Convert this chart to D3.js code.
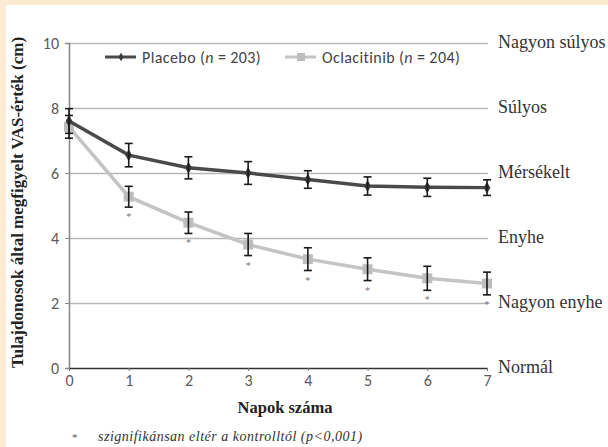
<!DOCTYPE html>
<html>
<head>
<meta charset="utf-8">
<script src="https://cdn.jsdelivr.net/npm/d3@7"></script>
<style>
  html, body { margin: 0; padding: 0; background: #fcead3; }
  svg { display: block; }
</style>
</head>
<body>
<svg id="chart" width="608" height="447"></svg>
<script>
// Owner-assessed pruritus VAS over the first week
const days = [0, 1, 2, 3, 4, 5, 6, 7];
const placeboMean = [7.6, 6.55, 6.16, 6.0, 5.8, 5.6, 5.56, 5.55];
const placeboErr = [0.38, 0.36, 0.34, 0.35, 0.27, 0.28, 0.28, 0.24];
const oclaMean = [7.42, 5.27, 4.47, 3.8, 3.35, 3.04, 2.76, 2.6];
const oclaErr = [0.35, 0.32, 0.33, 0.34, 0.35, 0.35, 0.37, 0.35];
const significantDays = [1, 2, 3, 4, 5, 6, 7];
const yTicks = [0, 2, 4, 6, 8, 10];
const severityLabels = ["Normál", "Nagyon enyhe", "Enyhe", "Mérsékelt", "Súlyos", "Nagyon súlyos"];
const legendLabels = [
  { name: "Placebo", n: 203 },
  { name: "Oclacitinib", n: 204 }
];

const svg = d3.select("#chart");
svg.append("rect").attr("x", 6).attr("y", 5).attr("width", 602).attr("height", 442).attr("fill", "#fff");

const x = d3.scaleLinear().domain([0, 7]).range([69, 487]);
const y = d3.scaleLinear().domain([0, 10]).range([368, 43]);

const sans = "Carlito, Calibri, 'Open Sans', 'Liberation Sans', sans-serif";
const serif = "'Liberation Serif', 'DejaVu Serif', serif";

// horizontal gridlines at each severity boundary
svg.append("g").selectAll("line").data(yTicks.filter(d => d > 0)).join("line")
  .attr("x1", x(0)).attr("x2", x(7) + 1)
  .attr("y1", d => y(d) + 0.5).attr("y2", d => y(d) + 0.5)
  .attr("stroke", "#b8b8b8").attr("stroke-width", 1.5);

// y axis
const yAxis = svg.append("g").attr("transform", `translate(${x(0)},0)`)
  .call(d3.axisLeft(y).tickValues(yTicks).tickSize(4).tickPadding(6).tickFormat(d3.format("d")));
yAxis.select(".domain").attr("stroke", "#8a8a8a").attr("stroke-width", 1.6);
yAxis.selectAll(".tick line").attr("stroke", "#8a8a8a");
yAxis.selectAll("text").attr("font-family", sans).attr("font-size", 16).attr("fill", "#5a5a5a");

// x axis
const xAxis = svg.append("g").attr("transform", `translate(0,${y(0)})`)
  .call(d3.axisBottom(x).tickValues(days).tickSize(3).tickPadding(4).tickSizeOuter(0).tickFormat(d3.format("d")));
xAxis.select(".domain").attr("stroke", "#333").attr("stroke-width", 1.6);
xAxis.selectAll(".tick line").attr("stroke", "#777");
xAxis.selectAll("text").attr("font-family", sans).attr("font-size", 16).attr("fill", "#5a5a5a");

// severity labels on the right
svg.append("g").selectAll("text").data(yTicks).join("text")
  .attr("x", 498).attr("y", d => y(d) + 5)
  .attr("font-family", serif).attr("font-size", 18).attr("fill", "#333")
  .text((d, i) => severityLabels[i]);

// axis titles
svg.append("text").attr("x", x(3.5) + 7).attr("y", 413).attr("text-anchor", "middle")
  .attr("font-family", serif).attr("font-size", 16.5).attr("font-weight", "bold").attr("fill", "#222")
  .text("Napok száma");
svg.append("text")
  .attr("transform", `translate(23,${y(5) - 3}) rotate(-90)`)
  .attr("text-anchor", "middle")
  .attr("font-family", serif).attr("font-size", 17).attr("font-weight", "bold").attr("fill", "#222")
  .text("Tulajdonosok által megfigyelt VAS-érték (cm)");

const line = d3.line().x((d, i) => x(days[i])).y(d => y(d));

function drawErrors(means, errs) {
  const g = svg.append("g").attr("stroke", "#1a1a1a").attr("stroke-width", 1.6);
  means.forEach((m, i) => {
    const cx = x(days[i]);
    g.append("line").attr("x1", cx).attr("x2", cx).attr("y1", y(m + errs[i])).attr("y2", y(m - errs[i]));
    [m + errs[i], m - errs[i]].forEach(v => {
      g.append("line").attr("x1", cx - 4).attr("x2", cx + 4).attr("y1", y(v)).attr("y2", y(v));
    });
  });
}

// oclacitinib series
svg.append("path").datum(oclaMean).attr("d", line)
  .attr("fill", "none").attr("stroke", "#c4c4c4").attr("stroke-width", 3.5);
svg.append("g").selectAll("rect").data(oclaMean).join("rect")
  .attr("x", (d, i) => x(days[i]) - 5).attr("y", d => y(d) - 5)
  .attr("width", 10).attr("height", 10).attr("fill", "#bdbdbd");
drawErrors(oclaMean, oclaErr);

// placebo series
svg.append("path").datum(placeboMean).attr("d", line)
  .attr("fill", "none").attr("stroke", "#4a4a4a").attr("stroke-width", 3.5);
svg.append("g").selectAll("path").data(placeboMean).join("path")
  .attr("d", d3.symbol(d3.symbolDiamond, 40))
  .attr("transform", (d, i) => `translate(${x(days[i])},${y(d)})`)
  .attr("fill", "#3a3a3a");
drawErrors(placeboMean, placeboErr);

// significance markers beneath the oclacitinib error bars
svg.append("g").selectAll("text").data(significantDays).join("text")
  .attr("x", d => x(d)).attr("y", d => y(oclaMean[d] - oclaErr[d]) + 13)
  .attr("text-anchor", "middle")
  .attr("font-family", serif).attr("font-size", 10).attr("fill", "#777")
  .text("*");

// legend
const legend = svg.append("g");
const legendX = [105, 285];
legendLabels.forEach((s, i) => {
  const g = legend.append("g").attr("transform", `translate(${legendX[i]},57)`);
  g.append("line").attr("x1", 0).attr("x2", 31).attr("y1", 0).attr("y2", 0)
    .attr("stroke", i === 0 ? "#4a4a4a" : "#c4c4c4").attr("stroke-width", 3);
  if (i === 0) {
    g.append("path").attr("d", d3.symbol(d3.symbolDiamond, 22)).attr("transform", "translate(16,0)").attr("fill", "#3a3a3a");
  } else {
    g.append("rect").attr("x", 12).attr("y", -4).attr("width", 8).attr("height", 8).attr("fill", "#bdbdbd");
  }
  const t = g.append("text").attr("x", 37).attr("y", 5.5)
    .attr("font-family", sans).attr("font-size", 16).attr("letter-spacing", 0.4).attr("fill", "#444");
  t.append("tspan").text(s.name + " (");
  t.append("tspan").attr("font-style", "italic").text("n");
  t.append("tspan").text(" = " + s.n + ")");
});

// footnote
svg.append("text").attr("x", 72).attr("y", 441)
  .attr("font-family", serif).attr("font-size", 11).attr("fill", "#555").text("*");
svg.append("text").attr("x", 98).attr("y", 441)
  .attr("font-family", serif).attr("font-size", 14).attr("letter-spacing", 0.5).attr("font-style", "italic").attr("fill", "#333")
  .text("szignifikánsan eltér a kontrolltól (p<0,001)");
</script>
</body>
</html>
